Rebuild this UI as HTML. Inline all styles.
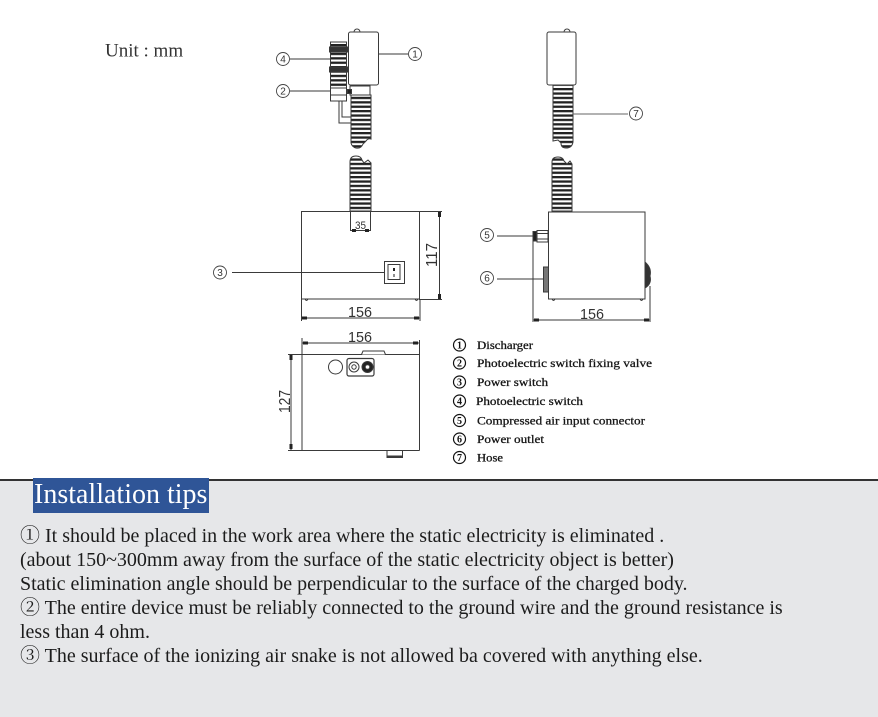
<!DOCTYPE html>
<html><head><meta charset="utf-8">
<style>
html,body{margin:0;padding:0;background:#fff;}
body{width:878px;height:717px;position:relative;overflow:hidden;}
svg.d{position:absolute;left:0;top:0;}
.panel{position:absolute;left:0;top:479px;width:878px;height:238px;background:#e6e7e9;border-top:2px solid #333;box-sizing:border-box;}
.hdr{position:absolute;left:33px;top:478px;width:176px;height:35px;background:#2f5597;color:#fff;font-family:"Liberation Serif","Noto Serif CJK SC",serif;font-size:28px;line-height:34px;padding-left:1px;box-sizing:border-box;white-space:nowrap;}
.tips{position:absolute;left:20px;top:524px;font-family:"Liberation Serif","Noto Serif CJK SC",serif;font-size:20px;line-height:24px;color:#1c1c1c;white-space:nowrap;}
.tips div{height:24px;}
</style></head><body>
<svg class="d" width="878" height="480" viewBox="0 0 878 480" xmlns="http://www.w3.org/2000/svg">
<defs>
<pattern id="hose" patternUnits="userSpaceOnUse" width="40" height="4.4">
<rect width="40" height="4.4" fill="#fff"/>
<rect width="40" height="2.3" fill="#222"/>
</pattern>
</defs>
<text x="105" y="56.5" font-family="Liberation Serif, serif" font-size="19" fill="#333">Unit : mm</text>

<g stroke="#3a3a3a" stroke-width="1" fill="none">
<!-- LEFT TOP: discharger -->
<path d="M354,32 A3,3 0 0 1 360,32" />
<rect x="348.5" y="32" width="30" height="53" rx="2" fill="#fff"/>
<rect x="350" y="86" width="20" height="9" fill="#fff"/>
<path d="M351,95 L371,95 L371,139 Q368,138 366,141 L363,144 Q361,149 356,148 Q352,147 351,143 Z" fill="url(#hose)"/>
<!-- photoelectric switch -->
<rect x="330.5" y="42" width="16" height="46" fill="url(#hose)"/>
<rect x="329.5" y="47" width="18" height="5" fill="#333"/>
<rect x="329.5" y="67" width="18" height="5" fill="#333"/>
<rect x="330.5" y="88" width="16" height="13" fill="#fff"/>
<line x1="330.5" y1="95" x2="346.5" y2="95"/>
<rect x="347.5" y="89.5" width="4" height="4" fill="#222"/>
<polyline points="339,101 339,123 351,123"/>
<polyline points="342,101 342,117 351,117"/>
<!-- labels -->
<line x1="290" y1="59" x2="330" y2="59"/>
<line x1="290" y1="91" x2="330" y2="91"/>
<line x1="378.5" y1="54" x2="408" y2="54"/>

<!-- LEFT front box -->
<path d="M350,211 L350,162 Q350,156 356,156 Q361,156 362,160 L364,163 L368,160 L371,163 L371,211 Z" fill="url(#hose)"/>
<rect x="301.5" y="211.5" width="118" height="87.5" fill="none"/>
<line x1="350.5" y1="211" x2="350.5" y2="231"/>
<line x1="370.5" y1="211" x2="370.5" y2="231"/>
<line x1="350.5" y1="230.5" x2="370.5" y2="230.5"/>
<rect x="384.5" y="261.5" width="20" height="22" fill="#fff"/>
<rect x="388" y="264.5" width="12" height="15"/>
<line x1="232" y1="272.5" x2="384" y2="272.5"/>
<path d="M305,299 q1.5,3 3,0 M415,299 q1.5,3 3,0"/>
<!-- 117 dim -->
<line x1="419" y1="211.5" x2="442" y2="211.5"/>
<line x1="419" y1="299.5" x2="442" y2="299.5"/>
<line x1="439.5" y1="211.5" x2="439.5" y2="299.5"/>
<!-- 156 dim front -->
<line x1="301.5" y1="299" x2="301.5" y2="321"/>
<line x1="420" y1="299" x2="420" y2="321"/>
<line x1="301.5" y1="318" x2="420" y2="318"/>

<!-- RIGHT top discharger -->
<path d="M564,32 A3,3 0 0 1 570,32" />
<rect x="547" y="32" width="29" height="53" rx="2" fill="#fff"/>
<path d="M553,85 L573,85 L573,142 Q572,148 566,148 Q561,148 561,143 L558,140 L553,141 Z" fill="url(#hose)"/>
<line x1="573" y1="114" x2="628" y2="114" stroke="#666"/>
<!-- RIGHT side box -->
<path d="M552,211 L552,162 Q552,157 558,157 Q563,157 564,161 L567,164 L570,161 L572,164 L572,211 Z" fill="url(#hose)"/>
<rect x="548.5" y="212" width="96.5" height="87" fill="#fff"/>
<path d="M645,262 Q652,268 650,276 Q652,284 645,288 Z" fill="#333"/>
<rect x="537" y="230.5" width="11" height="11.5" fill="#fff"/>
<line x1="537" y1="233.5" x2="548" y2="233.5"/>
<line x1="537" y1="239" x2="548" y2="239"/>
<rect x="533" y="231.5" width="3.5" height="9.5" fill="#222"/>
<rect x="543.5" y="267" width="5" height="25" fill="#777"/>
<line x1="497" y1="236" x2="533" y2="236"/>
<line x1="497" y1="279" x2="543" y2="279"/>
<line x1="533" y1="241" x2="533" y2="322"/>
<line x1="650" y1="286" x2="650" y2="322"/>
<line x1="533" y1="320" x2="650" y2="320"/>
<path d="M552,299 q1.5,3 3,0 M640,299 q1.5,3 3,0"/>

<!-- TOP VIEW -->
<line x1="302" y1="338" x2="302" y2="450.5"/>
<line x1="419.5" y1="340" x2="419.5" y2="450.5"/>
<line x1="288" y1="354.5" x2="419.5" y2="354.5"/>
<line x1="288" y1="450.5" x2="419.5" y2="450.5"/>
<line x1="302" y1="343" x2="419.5" y2="343"/>
<line x1="291" y1="354.5" x2="291" y2="450.5"/>
<path d="M361.5,354.5 L363,351 L384,351 L385.5,354.5" fill="#fff"/>
<circle cx="335.5" cy="367" r="7"/>
<rect x="347" y="358.5" width="27" height="17.5" rx="2" stroke-width="1.2"/>
<circle cx="354" cy="367" r="5"/>
<circle cx="354" cy="367" r="2.2"/>
<circle cx="367.5" cy="367" r="5.5" fill="#222"/>
<circle cx="367.5" cy="367" r="2.3" fill="#fff"/>
<rect x="387" y="450.5" width="15.5" height="7" fill="#fff"/>
<line x1="387" y1="456.5" x2="402.5" y2="456.5" stroke-width="2"/>
</g>

<!-- dimension arrow marks -->
<g fill="#222">
<rect x="438" y="212" width="3" height="5"/><rect x="438" y="294" width="3" height="5"/>
<rect x="302" y="316.5" width="5" height="3"/><rect x="414" y="316.5" width="5" height="3"/>
<rect x="534" y="318.5" width="5" height="3"/><rect x="644" y="318.5" width="5" height="3"/>
<rect x="303" y="341.5" width="5" height="3"/><rect x="413" y="341.5" width="5" height="3"/>
<rect x="289.5" y="355" width="3" height="5"/><rect x="289.5" y="444" width="3" height="5"/>
<rect x="352" y="229" width="4" height="3"/><rect x="365" y="229" width="4" height="3"/>
<rect x="393" y="268" width="2" height="3"/><rect x="393.5" y="274" width="1" height="3"/>
</g>

<g font-family="Liberation Sans, sans-serif" fill="#333" text-anchor="middle">
<text x="360" y="317" font-size="15" textLength="24" lengthAdjust="spacingAndGlyphs">156</text>
<text x="592" y="319" font-size="15" textLength="24" lengthAdjust="spacingAndGlyphs">156</text>
<text x="360" y="342" font-size="15" textLength="24" lengthAdjust="spacingAndGlyphs">156</text>
<text x="360.5" y="229" font-size="11" textLength="11" lengthAdjust="spacingAndGlyphs">35</text>
<text transform="translate(437,255) rotate(-90)" x="0" y="0" font-size="16" textLength="24" lengthAdjust="spacingAndGlyphs">117</text>
<text transform="translate(290,401.5) rotate(-90)" x="0" y="0" font-size="16" textLength="23" lengthAdjust="spacingAndGlyphs">127</text>
</g>

<!-- diagram circled labels -->
<g stroke="#444" stroke-width="0.9" fill="#fff">
<circle cx="283" cy="59" r="6.5"/>
<circle cx="283" cy="91" r="6.5"/>
<circle cx="415" cy="54" r="6.5"/>
<circle cx="220" cy="272.5" r="6.5"/>
<circle cx="636" cy="113.5" r="6.5"/>
<circle cx="487" cy="235" r="6.5"/>
<circle cx="487" cy="278" r="6.5"/>
</g>
<g font-family="Liberation Sans, sans-serif" font-size="10" fill="#333" text-anchor="middle">
<text x="283" y="62.5">4</text>
<text x="283" y="94.5">2</text>
<text x="415" y="57.5">1</text>
<text x="220" y="276">3</text>
<text x="636" y="117">7</text>
<text x="487" y="238.5">5</text>
<text x="487" y="281.5">6</text>
</g>

<!-- legend -->
<g stroke="#111" stroke-width="1.2" fill="#fff">
<circle cx="459.5" cy="345" r="6"/>
<circle cx="459.5" cy="363" r="6"/>
<circle cx="459.5" cy="382" r="6"/>
<circle cx="459.5" cy="401" r="6"/>
<circle cx="459.5" cy="420.5" r="6"/>
<circle cx="459.5" cy="439" r="6"/>
<circle cx="459.5" cy="457.5" r="6"/>
</g>
<g font-family="Liberation Serif, serif" font-size="10" font-weight="bold" fill="#111" text-anchor="middle">
<text x="459.5" y="348.5">1</text>
<text x="459.5" y="366.5">2</text>
<text x="459.5" y="385.5">3</text>
<text x="459.5" y="404.5">4</text>
<text x="459.5" y="424">5</text>
<text x="459.5" y="442.5">6</text>
<text x="459.5" y="461">7</text>
</g>
<g font-family="Liberation Serif, serif" font-size="12" fill="#151515" stroke="#151515" stroke-width="0.3">
<text x="477" y="349" textLength="56" lengthAdjust="spacingAndGlyphs">Discharger</text>
<text x="477" y="367" textLength="175" lengthAdjust="spacingAndGlyphs">Photoelectric switch fixing valve</text>
<text x="477" y="386" textLength="71" lengthAdjust="spacingAndGlyphs">Power switch</text>
<text x="476" y="405" textLength="107" lengthAdjust="spacingAndGlyphs">Photoelectric switch</text>
<text x="477" y="424.5" textLength="168" lengthAdjust="spacingAndGlyphs">Compressed air input connector</text>
<text x="477" y="443" textLength="67" lengthAdjust="spacingAndGlyphs">Power outlet</text>
<text x="477" y="461.5" textLength="26" lengthAdjust="spacingAndGlyphs">Hose</text>
</g>
</svg>

<div class="panel"></div>
<div class="hdr">Installation tips</div>
<div class="tips">
<div>① It should be placed in the work area where the static electricity is eliminated .</div>
<div>(about 150~300mm away from the surface of the static electricity object is better)</div>
<div>Static elimination angle should be perpendicular to the surface of the charged body.</div>
<div>② The entire device must be reliably connected to the ground wire and the ground resistance is</div>
<div>less than 4 ohm.</div>
<div>③ The surface of the ionizing air snake is not allowed ba covered with anything else.</div>
</div>
</body></html>
